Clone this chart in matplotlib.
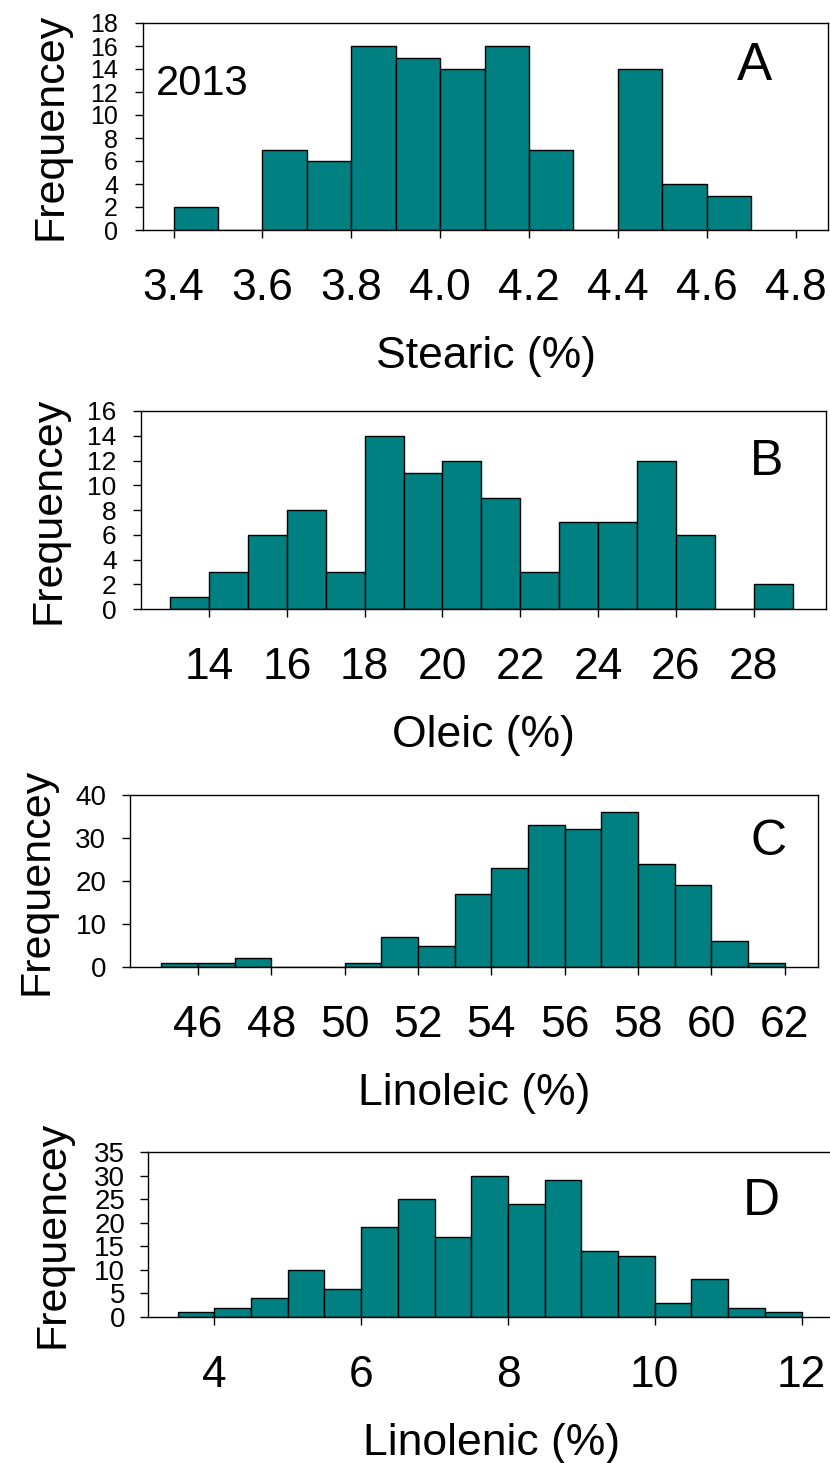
import matplotlib
matplotlib.use("Agg")
import matplotlib.pyplot as plt
import numpy as np

plt.rcParams['font.family'] = ['Liberation Sans', 'DejaVu Sans']

# ---------------- data ----------------
stearic_edges = [3.4, 3.5, 3.6, 3.7, 3.8, 3.9, 4.0, 4.1, 4.2, 4.3, 4.4, 4.5, 4.6, 4.7]
stearic_counts = [2, 0, 7, 6, 16, 15, 14, 16, 7, 0, 14, 4, 3]
stearic_ticks = [3.4, 3.6, 3.8, 4.0, 4.2, 4.4, 4.6, 4.8]
stearic_ticklabels = ["3.4", "3.6", "3.8", "4.0", "4.2", "4.4", "4.6", "4.8"]
stearic_yticks = [0, 2, 4, 6, 8, 10, 12, 14, 16, 18]

oleic_edges = [13, 14, 15, 16, 17, 18, 19, 20, 21, 22, 23, 24, 25, 26, 27, 28, 29]
oleic_counts = [1, 3, 6, 8, 3, 14, 11, 12, 9, 3, 7, 7, 12, 6, 0, 2]
oleic_ticks = [14, 16, 18, 20, 22, 24, 26, 28]
oleic_yticks = [0, 2, 4, 6, 8, 10, 12, 14, 16]

linoleic_edges = [45, 46, 47, 48, 49, 50, 51, 52, 53, 54, 55, 56, 57, 58, 59, 60, 61, 62]
linoleic_counts = [1, 1, 2, 0, 0, 1, 7, 5, 17, 23, 33, 32, 36, 24, 19, 6, 1]
linoleic_ticks = [46, 48, 50, 52, 54, 56, 58, 60, 62]
linoleic_yticks = [0, 10, 20, 30, 40]

linolenic_edges = [3.5, 4.0, 4.5, 5.0, 5.5, 6.0, 6.5, 7.0, 7.5, 8.0, 8.5, 9.0,
                   9.5, 10.0, 10.5, 11.0, 11.5, 12.0]
linolenic_counts = [1, 2, 4, 10, 6, 19, 25, 17, 30, 24, 29, 14, 13, 3, 8, 2, 1]
linolenic_ticks = [4, 6, 8, 10, 12]
linolenic_yticks = [0, 5, 10, 15, 20, 25, 30, 35]

xlabels = ["Stearic (%)", "Oleic (%)", "Linoleic (%)", "Linolenic (%)"]
panel_letters = ["A", "B", "C", "D"]
ylabel_text = "Frequencey"
year_text = "2013"

# ---------------- layout ----------------
W, H = 830, 1463
fig = plt.figure(figsize=(W / 100, H / 100), dpi=100)

def rect(l, t, r, b):
    return [l / W, 1 - b / H, (r - l) / W, (b - t) / H]

def fx(x):
    return x / W

def fy(y):
    return 1 - y / H

panels = [
    dict(rect=(143, 23, 828, 230), edges=stearic_edges, counts=stearic_counts,
         ticks=stearic_ticks, ticklabels=stearic_ticklabels, yticks=stearic_yticks,
         xlim=(3.331, 4.873), ysize=18, ypad=12.5, ylab_x=50, letter=(754, 80, 38)),
    dict(rect=(141, 411, 826, 609), edges=oleic_edges, counts=oleic_counts,
         ticks=oleic_ticks, ticklabels=[str(t) for t in oleic_ticks], yticks=oleic_yticks,
         xlim=(12.25, 29.86), ysize=19, ypad=12, ylab_x=49, letter=(767, 475, 36)),
    dict(rect=(130, 795, 818, 967), edges=linoleic_edges, counts=linoleic_counts,
         ticks=linoleic_ticks, ticklabels=[str(t) for t in linoleic_ticks], yticks=linoleic_yticks,
         xlim=(44.145, 62.91), ysize=20, ypad=11.5, ylab_x=36, letter=(769, 855, 36)),
    dict(rect=(148, 1152, 836, 1317), edges=linolenic_edges, counts=linolenic_counts,
         ticks=linolenic_ticks, ticklabels=[str(t) for t in linolenic_ticks], yticks=linolenic_yticks,
         xlim=(3.095, 12.47), ysize=20, ypad=11, ylab_x=53, letter=(761, 1215, 37)),
]

for i, p in enumerate(panels):
    ax = fig.add_axes(rect(*p['rect']))
    edges = np.array(p['edges'])
    ax.bar(edges[:-1], p['counts'], width=np.diff(edges), align='edge',
           color='#008080', edgecolor='black', linewidth=1.0, zorder=2)
    ax.set_xlim(*p['xlim'])
    ax.set_ylim(p['yticks'][0], p['yticks'][-1])
    ax.set_xticks(p['ticks'])
    ax.set_xticklabels(p['ticklabels'])
    ax.set_yticks(p['yticks'])
    ax.tick_params(axis='x', direction='out', length=5.5, width=1, pad=22,
                   labelsize=32)
    ax.tick_params(axis='y', direction='out', length=5.5, width=1, pad=p['ypad'],
                   labelsize=p['ysize'])
    for s in ax.spines.values():
        s.set_linewidth(1.0)
    ax.set_xlabel(xlabels[i], fontsize=32, labelpad=19)
    l, t, r, b = p['rect']
    fig.text(fx(p['ylab_x']), fy((t + b) / 2), ylabel_text, rotation=90,
             ha='center', va='center', fontsize=31)
    lx, ly, ls = p['letter']
    fig.text(fx(lx), fy(ly), panel_letters[i], ha='center', va='baseline', fontsize=ls)

fig.text(fx(202), fy(95), year_text, ha='center', va='baseline', fontsize=30)

fig.savefig("out.png", dpi=100)
